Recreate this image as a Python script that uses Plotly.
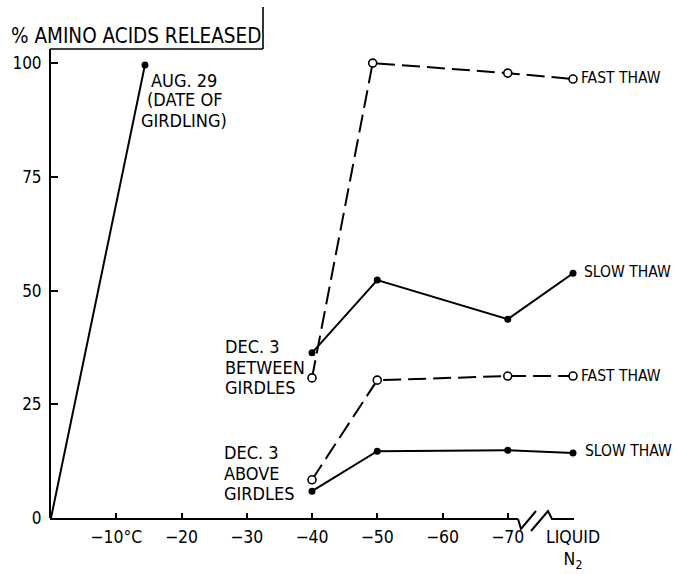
import plotly.graph_objects as go

# ---- data ----
aug_x = [0, -14.4]
aug_y = [0, 99.6]

between_slow_x = [-40, -50, -70, -80]
between_slow_y = [36.3, 52.3, 43.7, 53.8]
between_fast_x = [-40, -49.3, -70, -80]
between_fast_y = [30.8, 100.0, 97.8, 96.5]

above_fast_x = [-40, -50, -70, -80]
above_fast_y = [8.4, 30.3, 31.2, 31.2]
above_slow_x = [-40, -50, -70, -80]
above_slow_y = [5.9, 14.7, 14.9, 14.3]

x_tickvals = [-10, -20, -30, -40, -50, -60, -70, -80]
x_ticktext = ["\u221210\u00b0C", "\u221220", "\u221230", "\u221240", "\u221250",
              "\u221260", "\u221270", "LIQUID<br>N<sub>2</sub>"]
y_tickvals = [0, 25, 50, 75, 100]
y_ticktext = ["0", "25", "50", "75", "100"]

FONT = "Liberation Sans Narrow, DejaVu Sans Condensed, Liberation Sans, Arial"

W, H = 678, 574
L, R, T, B = 51, 105, 49, 56
PW, PH = W - L - R, H - T - B


def px(x):
    return (x - L) / PW


def py(y):
    return (H - B - y) / PH


fig = go.Figure()

solid = dict(color="black", width=2)
dashed = dict(color="black", width=2, dash="18px,7px")
filled = dict(symbol="circle", size=7, color="black")
openm = dict(symbol="circle", size=8, color="white", line=dict(color="black", width=1.6))

fig.add_trace(go.Scatter(x=aug_x, y=aug_y, mode="lines", line=solid, cliponaxis=False))
fig.add_trace(go.Scatter(x=aug_x[-1:], y=aug_y[-1:], mode="markers", marker=filled,
                         cliponaxis=False))
fig.add_trace(go.Scatter(x=between_fast_x, y=between_fast_y, mode="lines+markers",
                         line=dashed, marker=openm, cliponaxis=False))
fig.add_trace(go.Scatter(x=between_slow_x, y=between_slow_y, mode="lines+markers",
                         line=solid, marker=filled, cliponaxis=False))
fig.add_trace(go.Scatter(x=above_fast_x, y=above_fast_y, mode="lines+markers",
                         line=dashed, marker=openm, cliponaxis=False))
fig.add_trace(go.Scatter(x=above_slow_x, y=above_slow_y, mode="lines+markers",
                         line=solid, marker=filled, cliponaxis=False))

shapes = []
line_k = dict(color="black", width=2)
# x axis with break
shapes.append(dict(type="line", xref="paper", yref="paper", x0=px(50), x1=px(518),
                   y0=py(519), y1=py(519), line=line_k))
shapes.append(dict(type="path", xref="paper", yref="paper",
                   path=f"M {px(518)},{py(519)} L {px(521)},{py(529)} L {px(536)},{py(511)}",
                   line=line_k))
shapes.append(dict(type="path", xref="paper", yref="paper",
                   path=f"M {px(531)},{py(531)} L {px(548)},{py(511)} L {px(552)},{py(519)} L {px(574)},{py(519)}",
                   line=line_k))
# title box
shapes.append(dict(type="line", xref="paper", yref="paper", x0=px(50), x1=px(263),
                   y0=py(49), y1=py(49), line=dict(color="black", width=1.6)))
shapes.append(dict(type="line", xref="paper", yref="paper", x0=px(263), x1=px(263),
                   y0=py(7), y1=py(49), line=dict(color="black", width=1.6)))

annotations = []


def note(text, x, y, xanchor="left", size=18):
    annotations.append(dict(text=text, xref="paper", yref="paper", x=px(x), y=py(y),
                            xanchor=xanchor, yanchor="middle",
                            showarrow=False, font=dict(family=FONT, size=size, color="black")))


note("% AMINO ACIDS RELEASED", 9, 36, size=20.5)
for txt, yy in [("AUG. 29", 80), ("(DATE OF", 100), ("GIRDLING)", 120)]:
    note(txt, 184, yy, xanchor="center")
for txt, yy in [("DEC. 3", 346), ("BETWEEN", 367), ("GIRDLES", 387)]:
    note(txt, 223, yy)
for txt, yy in [("DEC. 3", 452), ("ABOVE", 473), ("GIRDLES", 493)]:
    note(txt, 222, yy)
note("FAST THAW", 579, 78, size=15.5)
note("SLOW THAW", 582, 272, size=15.5)
note("FAST THAW", 579, 376, size=15.5)
note("SLOW THAW", 583, 451, size=15.5)

fig.update_layout(
    width=W, height=H,
    margin=dict(l=L, r=R, t=T, b=B, pad=0, autoexpand=False),
    paper_bgcolor="white", plot_bgcolor="white",
    showlegend=False,
    shapes=shapes, annotations=annotations,
    font=dict(family=FONT, color="black"),
    xaxis=dict(range=[0, -80], tickmode="array", tickvals=x_tickvals, ticktext=x_ticktext,
               ticks="inside", ticklen=5, tickwidth=1.5, tickcolor="black",
               showgrid=False, zeroline=False, showline=False, automargin=False,
               tickfont=dict(family=FONT, size=17.5), ticklabelstandoff=6),
    yaxis=dict(range=[0, 103.1], tickmode="array", tickvals=y_tickvals, ticktext=y_ticktext,
               ticks="inside", ticklen=7, tickwidth=1.5, tickcolor="black",
               showgrid=False, zeroline=False, showline=True, linecolor="black", linewidth=2,
               automargin=False,
               tickfont=dict(family=FONT, size=17), ticklabelstandoff=4),
)

fig.write_html("out.html", config={"displayModeBar": False},
               post_script="document.body.style.margin='0';document.body.style.padding='0';")
